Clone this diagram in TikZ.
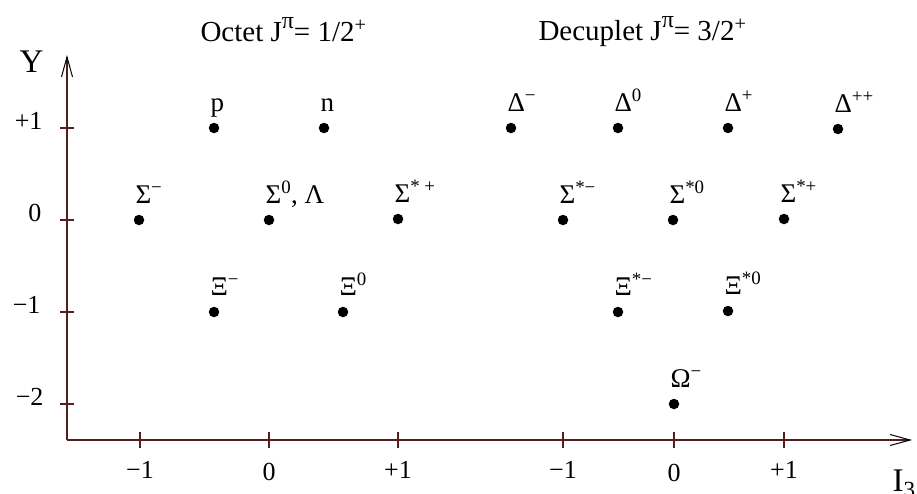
\documentclass[tikz,border=0pt]{standalone}
\usepackage{fontspec}
\setmainfont{Liberation Serif}
\usetikzlibrary{arrows.meta,positioning,calc}
\definecolor{axisbrown}{RGB}{85,30,30}
\newcommand{\bigsup}[1]{\raisebox{0.42em}{\fontsize{24}{24}\selectfont #1}}

\begin{document}
\begin{tikzpicture}[x=1pt, y=-1pt,
    axis/.style={draw=axisbrown, line width=1.4pt, -{Straight Barb[length=20pt, width=11pt, line width=1pt, black]}},
    tick/.style={draw=axisbrown, line width=1.2pt},
    dot/.style={circle, fill=black, inner sep=0pt, minimum size=10.5pt},
    particle/.style={anchor=base west, xshift=-7pt, yshift=17pt, font=\fontsize{27}{30}\selectfont},
    ticklabel/.style={font=\fontsize{26}{28}\selectfont},
    axislabel/.style={anchor=base west, font=\fontsize{33}{36}\selectfont},
    title/.style={anchor=base west, font=\fontsize{29}{32}\selectfont}
]
\useasboundingbox (0,0) rectangle (917,493);

% Axes
\coordinate (origin) at (67,440);
\coordinate (ytop) at (67,55);
\coordinate (xend) at (912,440);
\draw[axis] (origin) -- (ytop);
\draw[axis] (origin) -- (xend);
\node[axislabel] (ylab) at (16,72) {Y};
\node[axislabel] (xlab) at (889,491) {I\textsubscript{3}};

% Titles
\node[title] (octet) at (197,41) {Octet J\bigsup{π}= 1/2\textsuperscript{+}};
\node[title] (decuplet) at (535,40) {Decuplet J\bigsup{π}= 3/2\textsuperscript{+}};

% Y ticks
\draw[tick] (60,128) -- (74,128);
\draw[tick] (60,220) -- (74,220);
\draw[tick] (60,312) -- (74,312);
\draw[tick] (60,404) -- (74,404);
\node[ticklabel, anchor=base east] (yp1) at (46,129) {+1};
\node[ticklabel, anchor=base east] (y0) at (45,221) {0};
\node[ticklabel, anchor=base east] (ym1) at (44,313) {−1};
\node[ticklabel, anchor=base east] (ym2) at (47,405) {−2};

% I3 ticks
\draw[tick] (140,432) -- (140,448);
\draw[tick] (269,432) -- (269,448);
\draw[tick] (398,432) -- (398,448);
\draw[tick] (563,432) -- (563,448);
\draw[tick] (674,432) -- (674,448);
\draw[tick] (784,432) -- (784,448);
\node[ticklabel, anchor=base] (oct-m1) at (140,478) {−1};
\node[ticklabel, anchor=base] (oct-0) at (269,480) {0};
\node[ticklabel, anchor=base] (oct-p1) at (398,478) {+1};
\node[ticklabel, anchor=base] (dec-m1) at (563,478) {−1};
\node[ticklabel, anchor=base] (dec-0) at (674,481) {0};
\node[ticklabel, anchor=base] (dec-p1) at (784,478) {+1};

% Octet
\node[dot] (p) at (214,128) {};
\node[dot] (n) at (324,128) {};
\node[dot] (sigm) at (139,220) {};
\node[dot] (sig0) at (269,220) {};
\node[dot] (sigp) at (398,219) {};
\node[dot] (xim) at (214,312) {};
\node[dot] (xi0) at (343,312) {};
\node[particle] (p-l) at (p) {p};
\node[particle] (n-l) at (n) {n};
\node[particle] (sigm-l) at (sigm) {Σ\textsuperscript{−}};
\node[particle] (sig0-l) at (sig0) {Σ\textsuperscript{0}, Λ};
\node[particle] (sigp-l) at (sigp) {Σ\textsuperscript{* +}};
\node[particle] (xim-l) at (xim) {Ξ\textsuperscript{−}};
\node[particle] (xi0-l) at (xi0) {Ξ\textsuperscript{0}};

% Decuplet
\node[dot] (delm) at (511,128) {};
\node[dot] (del0) at (618,128) {};
\node[dot] (delp) at (728,128) {};
\node[dot] (delpp) at (838,129) {};
\node[dot] (ssm) at (563,220) {};
\node[dot] (ss0) at (673,220) {};
\node[dot] (ssp) at (784,219) {};
\node[dot] (xsm) at (618,312) {};
\node[dot] (xs0) at (728,311) {};
\node[dot] (omm) at (674,404) {};
\node[particle] (delm-l) at (delm) {Δ\textsuperscript{−}};
\node[particle] (del0-l) at (del0) {Δ\textsuperscript{0}};
\node[particle] (delp-l) at (delp) {Δ\textsuperscript{+}};
\node[particle] (delpp-l) at (delpp) {Δ\textsuperscript{++}};
\node[particle] (ssm-l) at (ssm) {Σ\textsuperscript{*−}};
\node[particle] (ss0-l) at (ss0) {Σ\textsuperscript{*0}};
\node[particle] (ssp-l) at (ssp) {Σ\textsuperscript{*+}};
\node[particle] (xsm-l) at (xsm) {Ξ\textsuperscript{*−}};
\node[particle] (xs0-l) at (xs0) {Ξ\textsuperscript{*0}};
\node[particle] (omm-l) at (omm) {Ω\textsuperscript{−}};

\end{tikzpicture}
\end{document}
